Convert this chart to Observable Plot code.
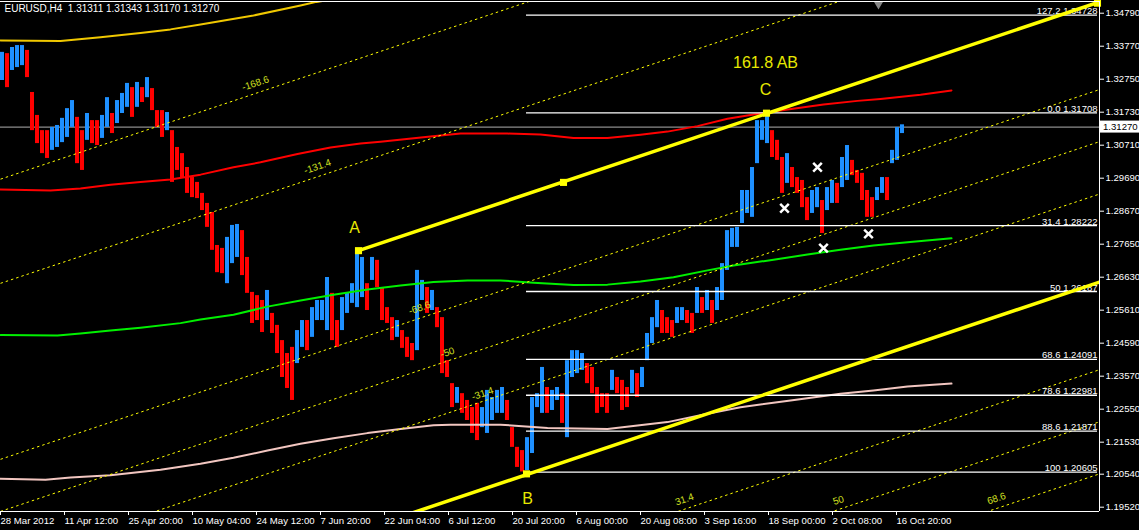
<!DOCTYPE html>
<html><head><meta charset="utf-8">
<script src="https://cdn.jsdelivr.net/npm/d3@7"></script>
<script src="https://cdn.jsdelivr.net/npm/@observablehq/plot@0.6"></script>
<style>html,body{margin:0;padding:0;background:#000;overflow:hidden;}</style>
</head><body><div id="chart"></div>
<script>
// ---------- data ----------
const symbolTitle = "EURUSD,H4";
const ohlcLast = [1.31311, 1.31343, 1.31170, 1.31270];
const barsPerChunk = 5;
const barHigh = [1.3358,1.3354,1.3373,1.3379,1.3379,1.3364,1.3234,1.3163,1.3116,1.3116,1.3126,1.3132,1.3154,1.3184,1.3209,1.3157,1.3116,1.3169,1.3147,1.3147,
1.3163,1.3218,1.3169,1.3209,1.3231,1.3262,1.3249,1.3265,1.3249,1.3280,1.3246,1.3178,1.3178,1.3172,1.3116,1.3064,1.3045,1.3002,1.2971,1.2956,
1.2922,1.2891,1.2863,1.2761,1.2752,1.2786,1.2823,1.2826,1.2807,1.2724,1.2616,1.2606,1.2591,1.2622,1.2551,1.2514,1.2467,1.2427,1.2446,1.2498,
1.2529,1.2529,1.2569,1.2591,1.2591,1.2662,1.2613,1.2529,1.2600,1.2613,1.2643,1.2746,1.2724,1.2643,1.2724,1.2715,1.2631,1.2569,1.2538,1.2529,
1.2498,1.2477,1.2458,1.2684,1.2653,1.2631,1.2622,1.2569,1.2538,1.2405,1.2334,1.2322,1.2303,1.2282,1.2260,1.2273,1.2260,1.2313,1.2291,1.2313,
1.2322,1.2282,1.2198,1.2137,1.2127,1.2167,1.2291,1.2303,1.2384,1.2322,1.2313,1.2322,1.2303,1.2405,1.2436,1.2436,1.2427,1.2396,1.2384,1.2322,
1.2303,1.2303,1.2375,1.2353,1.2344,1.2322,1.2375,1.2365,1.2384,1.2489,1.2538,1.2591,1.2560,1.2538,1.2529,1.2569,1.2569,1.2560,1.2551,1.2631,
1.2600,1.2622,1.2591,1.2631,1.2705,1.2807,1.2814,1.2817,1.2931,1.2931,1.3002,1.3147,1.3147,1.3171,1.3116,1.3086,1.3033,1.3045,1.3002,1.2971,
1.2962,1.2909,1.2931,1.2940,1.2900,1.2940,1.2962,1.2953,1.3033,1.3070,1.3024,1.2993,1.2984,1.2931,1.2909,1.2940,1.2971,1.2971,1.3055,1.3126,
1.3134];
const barLow = [1.3271,1.3249,1.3302,1.3311,1.3317,1.3280,1.3116,1.3076,1.3045,1.3030,1.3055,1.3064,1.3079,1.3095,1.3126,1.3014,1.2993,1.3086,1.3076,1.3070,
1.3092,1.3126,1.3107,1.3138,1.3169,1.3188,1.3157,1.3188,1.3203,1.3218,1.3178,1.3126,1.3095,1.3116,1.2956,1.2993,1.2971,1.2922,1.2909,1.2906,
1.2869,1.2817,1.2746,1.2677,1.2674,1.2643,1.2705,1.2724,1.2668,1.2613,1.2520,1.2529,1.2492,1.2529,1.2489,1.2427,1.2353,1.2319,1.2282,1.2396,
1.2446,1.2436,1.2477,1.2529,1.2529,1.2498,1.2467,1.2446,1.2498,1.2551,1.2582,1.2569,1.2600,1.2560,1.2653,1.2631,1.2529,1.2520,1.2467,1.2477,
1.2443,1.2415,1.2405,1.2436,1.2591,1.2551,1.2560,1.2507,1.2365,1.2353,1.2260,1.2273,1.2242,1.2220,1.2180,1.2158,1.2198,1.2180,1.2220,1.2242,
1.2242,1.2220,1.2137,1.2075,1.2061,1.2065,1.2118,1.2260,1.2242,1.2242,1.2251,1.2282,1.2211,1.2167,1.2353,1.2365,1.2375,1.2334,1.2303,1.2242,
1.2260,1.2242,1.2313,1.2303,1.2251,1.2260,1.2303,1.2291,1.2322,1.2405,1.2458,1.2507,1.2489,1.2489,1.2477,1.2520,1.2529,1.2520,1.2489,1.2551,
1.2551,1.2560,1.2520,1.2560,1.2591,1.2684,1.2755,1.2755,1.2829,1.2860,1.2848,1.3014,1.3086,1.3076,1.3033,1.3024,1.2922,1.2953,1.2940,1.2922,
1.2878,1.2838,1.2860,1.2878,1.2798,1.2869,1.2891,1.2891,1.2940,1.2962,1.2977,1.2953,1.2900,1.2848,1.2848,1.2900,1.2922,1.2900,1.3014,1.3024,
1.3107];

// moving averages: [bar, price]
const maYellow = [[0,1.3395],[60,1.3393],[100,1.3405],[140,1.3418],[170,1.3429],[200,1.3444],[253,1.3472],[300,1.3503],[316,1.3514],[330,1.3521]];
const maRed = [[0,1.2934],[50,1.2931],[80,1.2937],[110,1.2949],[140,1.2957],[170,1.2965],[200,1.2980],[233,1.3003],[260,1.3018],[297,1.3044],[330,1.3064],[360,1.3076],[380,1.3082],[430,1.3098],[460,1.3107],[507,1.3107],[540,1.3104],[573,1.3093],[607,1.3093],[640,1.3103],[667,1.3113],[697,1.3130],[727,1.3153],[753,1.3166],[780,1.3178],[823,1.3197],[857,1.3208],[880,1.3214],[920,1.3227],[951,1.3240]];
const maGreen = [[0,1.2484],[57,1.2483],[80,1.2489],[110,1.2498],[140,1.2507],[180,1.2521],[200,1.2532],[233,1.2547],[267,1.2572],[300,1.2591],[333,1.2609],[367,1.2625],[400,1.2637],[433,1.2648],[467,1.2653],[500,1.2653],[533,1.2646],[573,1.2639],[607,1.2640],[640,1.2650],[673,1.2663],[707,1.2684],[733,1.2699],[773,1.2717],[807,1.2733],[840,1.2748],[873,1.2761],[907,1.2771],[951,1.2783]];
const maPink = [[0,1.2040],[45,1.2037],[70,1.2044],[110,1.2051],[160,1.2068],[200,1.2086],[233,1.2105],[267,1.2127],[300,1.2148],[333,1.2165],[367,1.2181],[400,1.2194],[433,1.2205],[450,1.2207],[500,1.2207],[547,1.2197],[607,1.2194],[667,1.2215],[707,1.2241],[740,1.2261],[790,1.2282],[840,1.2303],[873,1.2313],[907,1.2325],[951,1.2334]];

// Fibonacci retracement
const fibLevelLabels = ["127.2","0.0","31.4","50","68.6","78.6","88.6","100"];
const fibPrices = [1.34728,1.31708,1.28222,1.26187,1.24091,1.22981,1.21871,1.20605];
const fibSpanBars = [526, 1097];

// channel (thick) lines and anchor squares
const channelUpper = [[358,1.2745],[1099,1.3514]];
const channelLower = [[400,1.1922],[1099,1.2648]];
const anchorPoints = [[358,1.2745],[563,1.2956],[766,1.3170],[526,1.2055],[1097,1.3510]];

// fib channel dotted lines
const dotLevelLabels = ["-168.6","-131.4","-68.6","-50","-31.4","31.4","50","68.6"];
const dotSpanBars = [0, 1099];
const dotStartPrice = [1.2966,1.2644,1.2100,1.1939,1.1778,1.1235,1.1074,1.0913];
const dotEndPrice = [1.4108,1.3786,1.3243,1.3082,1.2920,1.2377,1.2216,1.2055];
const dotLabelBar = [255,317,419,447,482,684,838,996];
const dotLabelPrice = [1.3262,1.3005,1.2568,1.2430,1.2303,1.1976,1.1973,1.1979];

// wave labels
const waveText = ["A","B","C","161.8 AB"];
const waveBar = [354,527,765,765];
const wavePrice = [1.2814,1.1977,1.3243,1.3324];

// white x markers
const xMarkBar = [817,784,868,823];
const xMarkPrice = [1.3003,1.2876,1.2797,1.2753];

// axes
const yTicks = [1.34790,1.33770,1.32750,1.31730,1.30710,1.29690,1.28670,1.27650,1.26630,1.25610,1.24590,1.23570,1.22550,1.21530,1.20540,1.19520];
const xTickBar = [0,64,128,192,256,320,384,448,512,576,640,704,768,832,896];
const xTickLabels = ["28 Mar 2012","11 Apr 12:00","25 Apr 20:00","10 May 04:00","24 May 12:00","7 Jun 20:00","22 Jun 04:00","6 Jul 12:00","20 Jul 20:00","6 Aug 00:00","20 Aug 08:00","3 Sep 16:00","18 Sep 00:00","2 Oct 08:00","16 Oct 20:00"];
const xDomain = [0, 1099];
const yDomain = [1.19387, 1.35152];
const shiftMarker = [[878, 1.3507]];

// ---------- build ----------
const BLUE = "#1e90ff", RED = "#ff0000";
const chunks = barHigh.map((hi, i) => ({x1: i*barsPerChunk, x2: i*barsPerChunk + barsPerChunk - 1, hi, lo: barLow[i]}));
chunks.forEach((c, i) => {
  const mid = (c.hi + c.lo) / 2;
  const prev = i ? (chunks[i-1].hi + chunks[i-1].lo) / 2 : mid;
  c.col = mid >= prev ? BLUE : RED;
});
const fibs = fibPrices.map((p, i) => ({price: p, label: fibLevelLabels[i] + " " + p.toFixed(5), x1: fibSpanBars[0], x2: fibSpanBars[1]}));
const dots = dotLevelLabels.map((l, i) => ({x1: dotSpanBars[0], x2: dotSpanBars[1], y1: dotStartPrice[i], y2: dotEndPrice[i]}));
const dotLabels = dotLevelLabels.map((l, i) => ({t: l, x: dotLabelBar[i], y: dotLabelPrice[i]}));
const waves = waveText.map((t, i) => ({t, x: waveBar[i], y: wavePrice[i]}));
const xMarks = xMarkBar.map((b, i) => ({x: b, y: xMarkPrice[i]}));
const xLabelMap = new Map(xTickBar.map((b, i) => [b, xTickLabels[i]]));
const X = d => d[0], Y = d => d[1];
const FONT = "Liberation Sans, Arial, sans-serif";

const chart = Plot.plot({
  width: 1139, height: 530,
  marginLeft: 0, marginRight: 40, marginTop: 1, marginBottom: 19,
  x: {domain: xDomain, axis: null},
  y: {domain: yDomain, axis: null},
  style: {background: "#000", color: "#fff", fontFamily: FONT, fontSize: "9.6px"},
  marks: [
    Plot.ruleY([ohlcLast[3]], {stroke: "#8c8c8c", strokeWidth: 1.2}),
    Plot.rect(chunks, {x1: "x1", x2: "x2", y1: "lo", y2: "hi", fill: d => d.col}),
    Plot.line(maYellow, {x: X, y: Y, stroke: "#f0c800", strokeWidth: 2, clip: true}),
    Plot.line(maRed, {x: X, y: Y, stroke: "#ff0000", strokeWidth: 2}),
    Plot.line(maGreen, {x: X, y: Y, stroke: "#00f000", strokeWidth: 2}),
    Plot.line(maPink, {x: X, y: Y, stroke: "#f2c6c0", strokeWidth: 2}),
    Plot.link(dots, {x1: "x1", x2: "x2", y1: "y1", y2: "y2", stroke: "#ffff00", strokeWidth: 1, strokeDasharray: "2.5,3", clip: true}),
    Plot.ruleY(fibs, {y: "price", x1: "x1", x2: "x2", stroke: "#fff", strokeWidth: 1.3}),
    Plot.text(fibs, {x: "x2", y: "price", text: "label", textAnchor: "end", lineAnchor: "bottom", dy: -1, fill: "#fff", fontSize: 9.5}),
    Plot.line(channelUpper, {x: X, y: Y, stroke: "#ffff00", strokeWidth: 3.5, clip: true}),
    Plot.line(channelLower, {x: X, y: Y, stroke: "#ffff00", strokeWidth: 3.5, clip: true}),
    Plot.dot(anchorPoints, {x: X, y: Y, symbol: "square", r: 4, fill: "#ffff00"}),
    Plot.text(dotLabels, {x: "x", y: "y", text: "t", rotate: -18.5, fill: "#d4e020", fontSize: 9.8}),
    Plot.text(waves, {x: "x", y: "y", text: "t", fill: "#e8e800", fontSize: 16}),
    Plot.dot(xMarks, {x: "x", y: "y", symbol: "times", r: 4, stroke: "#fff", strokeWidth: 2.5}),
    Plot.dot(shiftMarker, {x: X, y: Y, symbol: "triangle", rotate: 180, r: 3.5, fill: "#888"}),
    Plot.ruleY([yDomain[1]], {stroke: "#fff", strokeWidth: 1}),
    Plot.ruleY([yDomain[0]], {stroke: "#fff", strokeWidth: 1}),
    Plot.ruleX([xDomain[1]], {stroke: "#fff", strokeWidth: 1}),
    Plot.axisY({anchor: "right", ticks: yTicks, tickFormat: d => d.toFixed(5), tickSize: 4, tickPadding: 2}),
    Plot.axisX({ticks: xTickBar, tickFormat: d => xLabelMap.get(d), textAnchor: "start", tickSize: 4, tickPadding: 2, dx: 0}),
    Plot.text([symbolTitle + "  " + ohlcLast.map(v => v.toFixed(5)).join(" ")], {frameAnchor: "top-left", text: d => d, textAnchor: "start", lineAnchor: "top", dx: 4, dy: 3, fill: "#fff", fontSize: 10})
  ]
});

// current price tag on the right axis
const ys = chart.scale("y"), xs = chart.scale("x");
const yc = ys.apply(ohlcLast[3]);
const xr = xs.range[1] + 1;
const svg = d3.select(chart);
svg.append("rect").attr("x", xr).attr("y", yc - 6).attr("width", 39).attr("height", 12).attr("fill", "#fff");
svg.append("text").attr("x", xr + 3).attr("y", yc).attr("dy", "0.35em").attr("fill", "#000").attr("font-size", 9.6).attr("font-family", FONT).attr("text-anchor", "start").text(ohlcLast[3].toFixed(5));
document.getElementById("chart").appendChild(chart);
</script>
</body></html>
